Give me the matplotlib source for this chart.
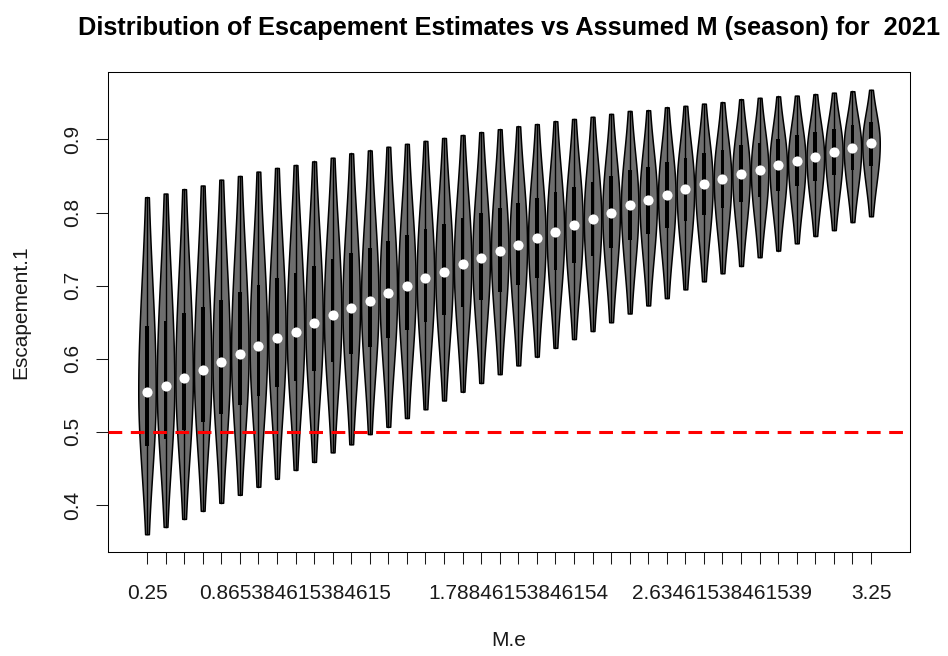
import numpy as np
import matplotlib
matplotlib.use("Agg")
import matplotlib.pyplot as plt
from matplotlib.patches import Rectangle

plt.rcParams['font.family'] = ['Liberation Sans', 'DejaVu Sans']

# escapement summaries for each assumed M value (40 runs)
esc_min = [0.360, 0.370, 0.381, 0.392, 0.403, 0.414, 0.425, 0.436, 0.448, 0.459,
           0.472, 0.483, 0.497, 0.507, 0.519, 0.531, 0.543, 0.555, 0.567, 0.579,
           0.591, 0.603, 0.615, 0.627, 0.638, 0.650, 0.662, 0.673, 0.683, 0.695,
           0.706, 0.717, 0.727, 0.739, 0.748, 0.758, 0.768, 0.776, 0.787, 0.795]
esc_q1 = [0.481, 0.490, 0.502, 0.514, 0.525, 0.537, 0.549, 0.561, 0.570, 0.583,
          0.595, 0.606, 0.616, 0.628, 0.639, 0.650, 0.660, 0.671, 0.681, 0.691,
          0.701, 0.711, 0.721, 0.731, 0.741, 0.751, 0.763, 0.771, 0.779, 0.789,
          0.797, 0.806, 0.814, 0.821, 0.829, 0.837, 0.843, 0.851, 0.858, 0.864]
esc_med = [0.555, 0.563, 0.574, 0.585, 0.596, 0.607, 0.618, 0.629, 0.637, 0.649,
           0.660, 0.670, 0.679, 0.690, 0.700, 0.710, 0.719, 0.729, 0.738, 0.747,
           0.756, 0.765, 0.774, 0.783, 0.791, 0.800, 0.810, 0.817, 0.824, 0.832,
           0.839, 0.846, 0.853, 0.858, 0.865, 0.871, 0.876, 0.883, 0.889, 0.895]
esc_q3 = [0.645, 0.652, 0.662, 0.671, 0.681, 0.691, 0.701, 0.710, 0.717, 0.727,
          0.737, 0.745, 0.752, 0.761, 0.769, 0.777, 0.784, 0.792, 0.799, 0.806,
          0.813, 0.820, 0.828, 0.835, 0.842, 0.850, 0.858, 0.863, 0.869, 0.875,
          0.881, 0.886, 0.892, 0.895, 0.901, 0.906, 0.910, 0.915, 0.920, 0.924]
esc_max = [0.821, 0.826, 0.832, 0.837, 0.845, 0.850, 0.856, 0.861, 0.865, 0.870,
           0.875, 0.881, 0.885, 0.890, 0.894, 0.898, 0.902, 0.906, 0.910, 0.914,
           0.918, 0.921, 0.925, 0.928, 0.931, 0.935, 0.939, 0.940, 0.944, 0.946,
           0.949, 0.951, 0.955, 0.957, 0.959, 0.960, 0.962, 0.964, 0.966, 0.968]

# only these M values get a printed label
label_idx = [1, 9, 21, 32, 40]
label_txt = ["0.25", "0.865384615384615", "1.78846153846154",
             "2.63461538461539", "3.25"]
y_ticks = [0.4, 0.5, 0.6, 0.7, 0.8, 0.9]
target = 0.5

n = len(esc_med)
pos = np.arange(1, n + 1)

fig = plt.figure(figsize=(9.48, 6.56), dpi=100)
ax = fig.add_axes([108 / 948, 104 / 656, 802 / 948, 480 / 656])

for i in range(n):
    x = pos[i]
    yy = np.linspace(esc_min[i], esc_max[i], 200)
    # bell-shaped outline, narrow but not closed at the extremes
    s_lo = (esc_med[i] - esc_min[i]) / 1.75
    s_hi = (esc_max[i] - esc_med[i]) / 1.75
    s = np.where(yy < esc_med[i], s_lo, s_hi)
    half = 0.47 * np.exp(-0.5 * ((yy - esc_med[i]) / s) ** 2)
    ax.fill_betweenx(yy, x - half, x + half, facecolor='#6e6e6e',
                     edgecolor='black', linewidth=1.1, zorder=2)
    ax.plot([x, x], [esc_min[i], esc_max[i]], color='black', lw=1.0, zorder=3)
    ax.add_patch(Rectangle((x - 0.1, esc_q1[i]), 0.2, esc_q3[i] - esc_q1[i],
                           facecolor='black', edgecolor='none', zorder=3))

ax.plot(pos, esc_med, 'o', color='white', markersize=7.3,
        markeredgewidth=0, zorder=4)

ax.axhline(target, color='red', lw=2.2, dashes=(4.5, 2.8), zorder=5)

# limits padded 4% like base R
lo, hi = min(esc_min), max(esc_max)
ax.set_ylim(lo - 0.04 * (hi - lo), hi + 0.04 * (hi - lo))
ax.set_xlim(0.5 - 0.04 * n, n + 0.5 + 0.04 * n)

xlabels = [''] * n
for k, t in zip(label_idx, label_txt):
    xlabels[k - 1] = t
ax.set_xticks(pos)
ax.set_xticklabels(xlabels)
ax.set_yticks(y_ticks)
ax.set_yticklabels([str(v) for v in y_ticks], rotation=90, va='center')

ax.tick_params(axis='both', direction='out', length=8.6, width=0.75,
               labelsize=15, colors='#1a1a1a')
ax.tick_params(axis='x', pad=14.5)
ax.tick_params(axis='y', pad=9.7)
for sp in ax.spines.values():
    sp.set_linewidth(0.75)
    sp.set_color('black')

fig.text(509 / 948, 1 - 35 / 656,
         'Distribution of Escapement Estimates vs Assumed M (season) for  2021',
         ha='center', va='baseline', fontsize=18.3, fontweight='bold')
fig.text(509 / 948, 1 - 640 / 656, 'M.e', ha='center', va='center',
         fontsize=15, color='#1a1a1a')
fig.text(20.5 / 948, 1 - 312 / 656, 'Escapement.1', rotation=90,
         ha='center', va='center', fontsize=15, color='#1a1a1a')

fig.savefig('out.png', dpi=100)
